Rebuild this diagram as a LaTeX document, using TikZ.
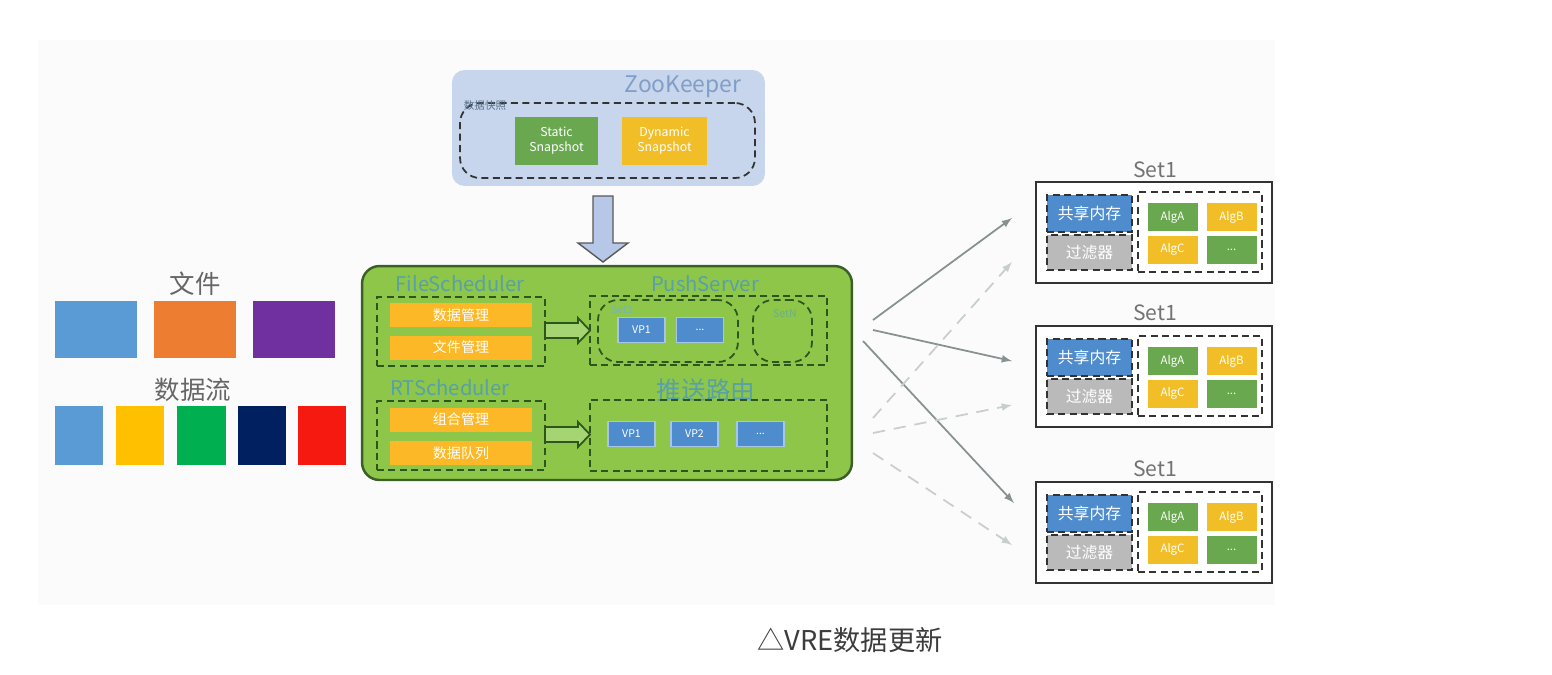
\documentclass[tikz,border=0pt]{standalone}
\usepackage{fontspec}
\setmainfont{Noto Sans CJK SC}
\usetikzlibrary{scopes,calc,arrows}
\definecolor{bgGray}{RGB}{251,251,251}
\definecolor{zkBlue}{RGB}{199,214,236}
\definecolor{zkText}{RGB}{128,158,198}
\definecolor{mainGreen}{RGB}{141,198,72}
\definecolor{mainEdge}{RGB}{58,96,40}
\definecolor{titleTeal}{RGB}{88,160,170}
\definecolor{dashGreen}{RGB}{45,85,30}
\definecolor{barOrange}{RGB}{252,184,38}
\definecolor{vpBlue}{RGB}{79,140,205}
\definecolor{algGreen}{RGB}{106,168,79}
\definecolor{algYellow}{RGB}{242,190,40}
\definecolor{filterGray}{RGB}{186,186,186}
\definecolor{hollowBlue}{RGB}{182,199,231}
\definecolor{hollowGreen}{RGB}{165,212,115}
\definecolor{fileBlue}{RGB}{91,155,213}
\definecolor{fileOrange}{RGB}{237,125,49}
\definecolor{filePurple}{RGB}{112,48,160}
\definecolor{streamYellow}{RGB}{255,192,0}
\definecolor{streamGreen}{RGB}{0,176,80}
\definecolor{streamNavy}{RGB}{0,32,96}
\definecolor{streamRed}{RGB}{245,25,15}
\definecolor{linkGray}{RGB}{135,145,145}
\definecolor{linkLight}{RGB}{200,205,205}
\definecolor{capGray}{RGB}{60,60,60}

\begin{document}
\begin{tikzpicture}[x=0.02cm, y=-0.02cm,
    box/.style={inner sep=0pt, align=center, text=white},
    dashgray/.style={draw=black!80, dash pattern=on 4pt off 2.5pt, line width=1pt},
    dashgreen/.style={draw=dashGreen, dash pattern=on 4pt off 2.5pt, line width=1pt},
    grouptitle/.style={text=titleTeal, font=\fontsize{11.5}{12}\selectfont},
    settitle/.style={text=black!55, font=\fontsize{12}{12}\selectfont},
    solidlink/.style={-latex, draw=linkGray, line width=1pt},
    dashlink/.style={-latex, draw=linkLight, line width=1pt, dash pattern=on 7pt off 5pt}]
  \useasboundingbox (0,0) rectangle (1552,674);
  \fill[bgGray] (38,40) rectangle (1275,605);

  % ZooKeeper
  \node[fill=zkBlue, rounded corners=0.25cm, minimum width=6.26cm, minimum height=2.32cm] (zk) at (608.5,128) {};
  \node[text=zkText, font=\fontsize{13}{13}\selectfont] (zk-title) at (683,87) {ZooKeeper};
  \node[dashgray, rounded corners=0.4cm, minimum width=5.9cm, minimum height=1.5cm] (snap) at (607.5,140.5) {};
  \node[text=zkText!70!black, font=\fontsize{6}{6}\selectfont, inner sep=0pt] (snap-label) at (485,106) {数据快照};
  {[every node/.style={box, minimum height=0.96cm, font=\fontsize{7}{8.5}\selectfont}]
    \node[fill=algGreen, minimum width=1.66cm] (static) at (556.5,141) {Static\\Snapshot};
    \node[fill=algYellow, minimum width=1.7cm] (dynamic) at (664.5,141) {Dynamic\\Snapshot};
  }
  \draw[fill=hollowBlue, draw=black!65, line width=0.8pt]
    (593,196) -- (613,196) -- (613,243) -- (628,243) -- (603,262) -- (578,243) -- (593,243) -- cycle;

  % scheduler block
  \node[fill=mainGreen, draw=mainEdge, line width=1.4pt, rounded corners=0.35cm,
        minimum width=9.8cm, minimum height=4.28cm] (main) at (607,373) {};
  \node[grouptitle] (fs-title) at (460,284) {FileScheduler};
  \node[grouptitle] (ps-title) at (705,284) {PushServer};
  \node[grouptitle] (rt-title) at (450,388) {RTScheduler};
  \node[grouptitle, font=\fontsize{14}{14}\selectfont] (route-title) at (706,390) {推送路由};
  {[every node/.style={dashgreen, minimum width=3.36cm, minimum height=1.38cm}]
    \node (fs) at (461,331.5) {};
    \node (rt) at (461,435.5) {};
  }
  {[every node/.style={box, fill=barOrange, minimum width=2.84cm, minimum height=0.48cm, font=\fontsize{8}{8}\selectfont}]
    \node (fs-data) at (461,315) {数据管理};
    \node (fs-file) at (461,347.5) {文件管理};
    \node (rt-comb) at (461,419.5) {组合管理};
    \node (rt-queue) at (461,453) {数据队列};
  }
  \draw[fill=hollowGreen, draw=dashGreen, line width=1pt]
    (545,323) -- (578,323) -- (578,318) -- (590,330.5) -- (578,343) -- (578,338) -- (545,338) -- cycle;
  \draw[fill=hollowGreen, draw=dashGreen, line width=1pt]
    (545,427) -- (578,427) -- (578,422) -- (590,434.5) -- (578,447) -- (578,442) -- (545,442) -- cycle;

  \node[dashgreen, minimum width=4.74cm, minimum height=1.38cm] (ps) at (708.5,330.5) {};
  \node[dashgreen, rounded corners=0.4cm, minimum width=2.8cm, minimum height=1.24cm] (ps-set1) at (668,331) {};
  \node[text=titleTeal!80, font=\fontsize{6}{6}\selectfont] (ps-set1-label) at (622,310) {Set1};
  \node[dashgreen, rounded corners=0.4cm, minimum width=1.18cm, minimum height=1.24cm] (ps-setn) at (782.5,331) {};
  \node[text=titleTeal!60!mainGreen, font=\fontsize{6}{6}\selectfont] (ps-setn-label) at (785,314) {SetN};
  \node[dashgreen, minimum width=4.74cm, minimum height=1.42cm] (route) at (708.5,435.5) {};
  {[every node/.style={box, fill=vpBlue, draw=vpBlue!50!white, line width=1pt, minimum width=0.94cm, minimum height=0.5cm, font=\fontsize{6}{6}\selectfont}]
    \node (ps-vp1) at (641.5,330) {VP1};
    \node (ps-more) at (700,330) {...};
    \node (route-vp1) at (631.5,434) {VP1};
    \node (route-vp2) at (694.5,434) {VP2};
    \node (route-more) at (760.5,434) {...};
  }

  % inputs
  \node[text=black!60, font=\fontsize{14.5}{15}\selectfont] (file-title) at (195,284) {文件};
  \node[text=black!60, font=\fontsize{14.5}{15}\selectfont] (stream-title) at (193,390) {数据流};
  {[every node/.style={minimum width=1.64cm, minimum height=1.14cm}]
    \node[fill=fileBlue] (file1) at (96,329.5) {};
    \node[fill=fileOrange] (file2) at (195,329.5) {};
    \node[fill=filePurple] (file3) at (294,329.5) {};
  }
  {[every node/.style={minimum width=0.98cm, minimum height=1.18cm}]
    \node[fill=fileBlue] (stream1) at (79,435.5) {};
    \node[fill=streamYellow] (stream2) at (140,435.5) {};
    \node[fill=streamGreen] (stream3) at (201.5,435.5) {};
    \node[fill=streamNavy] (stream4) at (262,435.5) {};
    \node[fill=streamRed] (stream5) at (322,435.5) {};
  }

  % sets
  {[every node/.style={draw=black!80, line width=1.2pt, fill=white, minimum width=4.72cm, minimum height=2.02cm}]
    \node (s1) at (1154,232.5) {};
    \node (s2) at (1154,376.5) {};
    \node (s3) at (1154,532.5) {};
  }
  \node[settitle] (s1-title) at (1155,170) {Set1};
  \node[settitle] (s2-title) at (1155,313) {Set1};
  \node[settitle] (s3-title) at (1155,469) {Set1};
  {[every node/.style={dashgray, minimum width=2.48cm, minimum height=1.6cm}]
    \node (s1-alg) at (1200,232) {};
    \node (s2-alg) at (1200,376) {};
    \node (s3-alg) at (1200,532) {};
  }
  {[every node/.style={box, dashgray, fill=vpBlue, minimum width=1.7cm, minimum height=0.74cm, font=\fontsize{9}{9}\selectfont}]
    \node (s1-mem) at (1089.5,213.5) {共享内存};
    \node (s2-mem) at (1089.5,357.5) {共享内存};
    \node (s3-mem) at (1089.5,513.5) {共享内存};
  }
  {[every node/.style={box, dashgray, fill=filterGray, minimum width=1.7cm, minimum height=0.7cm, font=\fontsize{9}{9}\selectfont}]
    \node (s1-filter) at (1089.5,252.5) {过滤器};
    \node (s2-filter) at (1089.5,396.5) {过滤器};
    \node (s3-filter) at (1089.5,552.5) {过滤器};
  }
  {[every node/.style={box, minimum width=1cm, minimum height=0.56cm, font=\fontsize{6.5}{6.5}\selectfont}]
    \node[fill=algGreen] (s1-a) at (1172.5,217) {AlgA};
    \node[fill=algYellow] (s1-b) at (1231.5,217) {AlgB};
    \node[fill=algYellow] (s1-c) at (1172.5,249.5) {AlgC};
    \node[fill=algGreen] (s1-d) at (1231.5,249.5) {...};
    \node[fill=algGreen] (s2-a) at (1172.5,361) {AlgA};
    \node[fill=algYellow] (s2-b) at (1231.5,361) {AlgB};
    \node[fill=algYellow] (s2-c) at (1172.5,393.5) {AlgC};
    \node[fill=algGreen] (s2-d) at (1231.5,393.5) {...};
    \node[fill=algGreen] (s3-a) at (1172.5,517) {AlgA};
    \node[fill=algYellow] (s3-b) at (1231.5,517) {AlgB};
    \node[fill=algYellow] (s3-c) at (1172.5,549.5) {AlgC};
    \node[fill=algGreen] (s3-d) at (1231.5,549.5) {...};
  }

  % push links
  \coordinate (src1) at (873,320);
  \coordinate (src2) at (873,330);
  \coordinate (src3) at (863,341);
  \coordinate (src4) at (873,418);
  \coordinate (src5) at (873,433);
  \coordinate (src6) at (873,453);
  \draw[solidlink] (src1) -- ($(s1.west)+(-23,-14.5)$);
  \draw[solidlink] (src2) -- ($(s2.west)+(-23,-15.5)$);
  \draw[solidlink] (src3) -- ($(s3.west)+(-21,-29.5)$);
  \draw[dashlink] (src4) -- ($(s1.west)+(-23,29.5)$);
  \draw[dashlink] (src5) -- ($(s2.west)+(-23,28.5)$);
  \draw[dashlink] (src6) -- ($(s3.west)+(-23,12.5)$);

  \node[text=capGray, font=\fontsize{15.5}{16}\selectfont] (caption) at (850,640) {△VRE数据更新};
\end{tikzpicture}
\end{document}
